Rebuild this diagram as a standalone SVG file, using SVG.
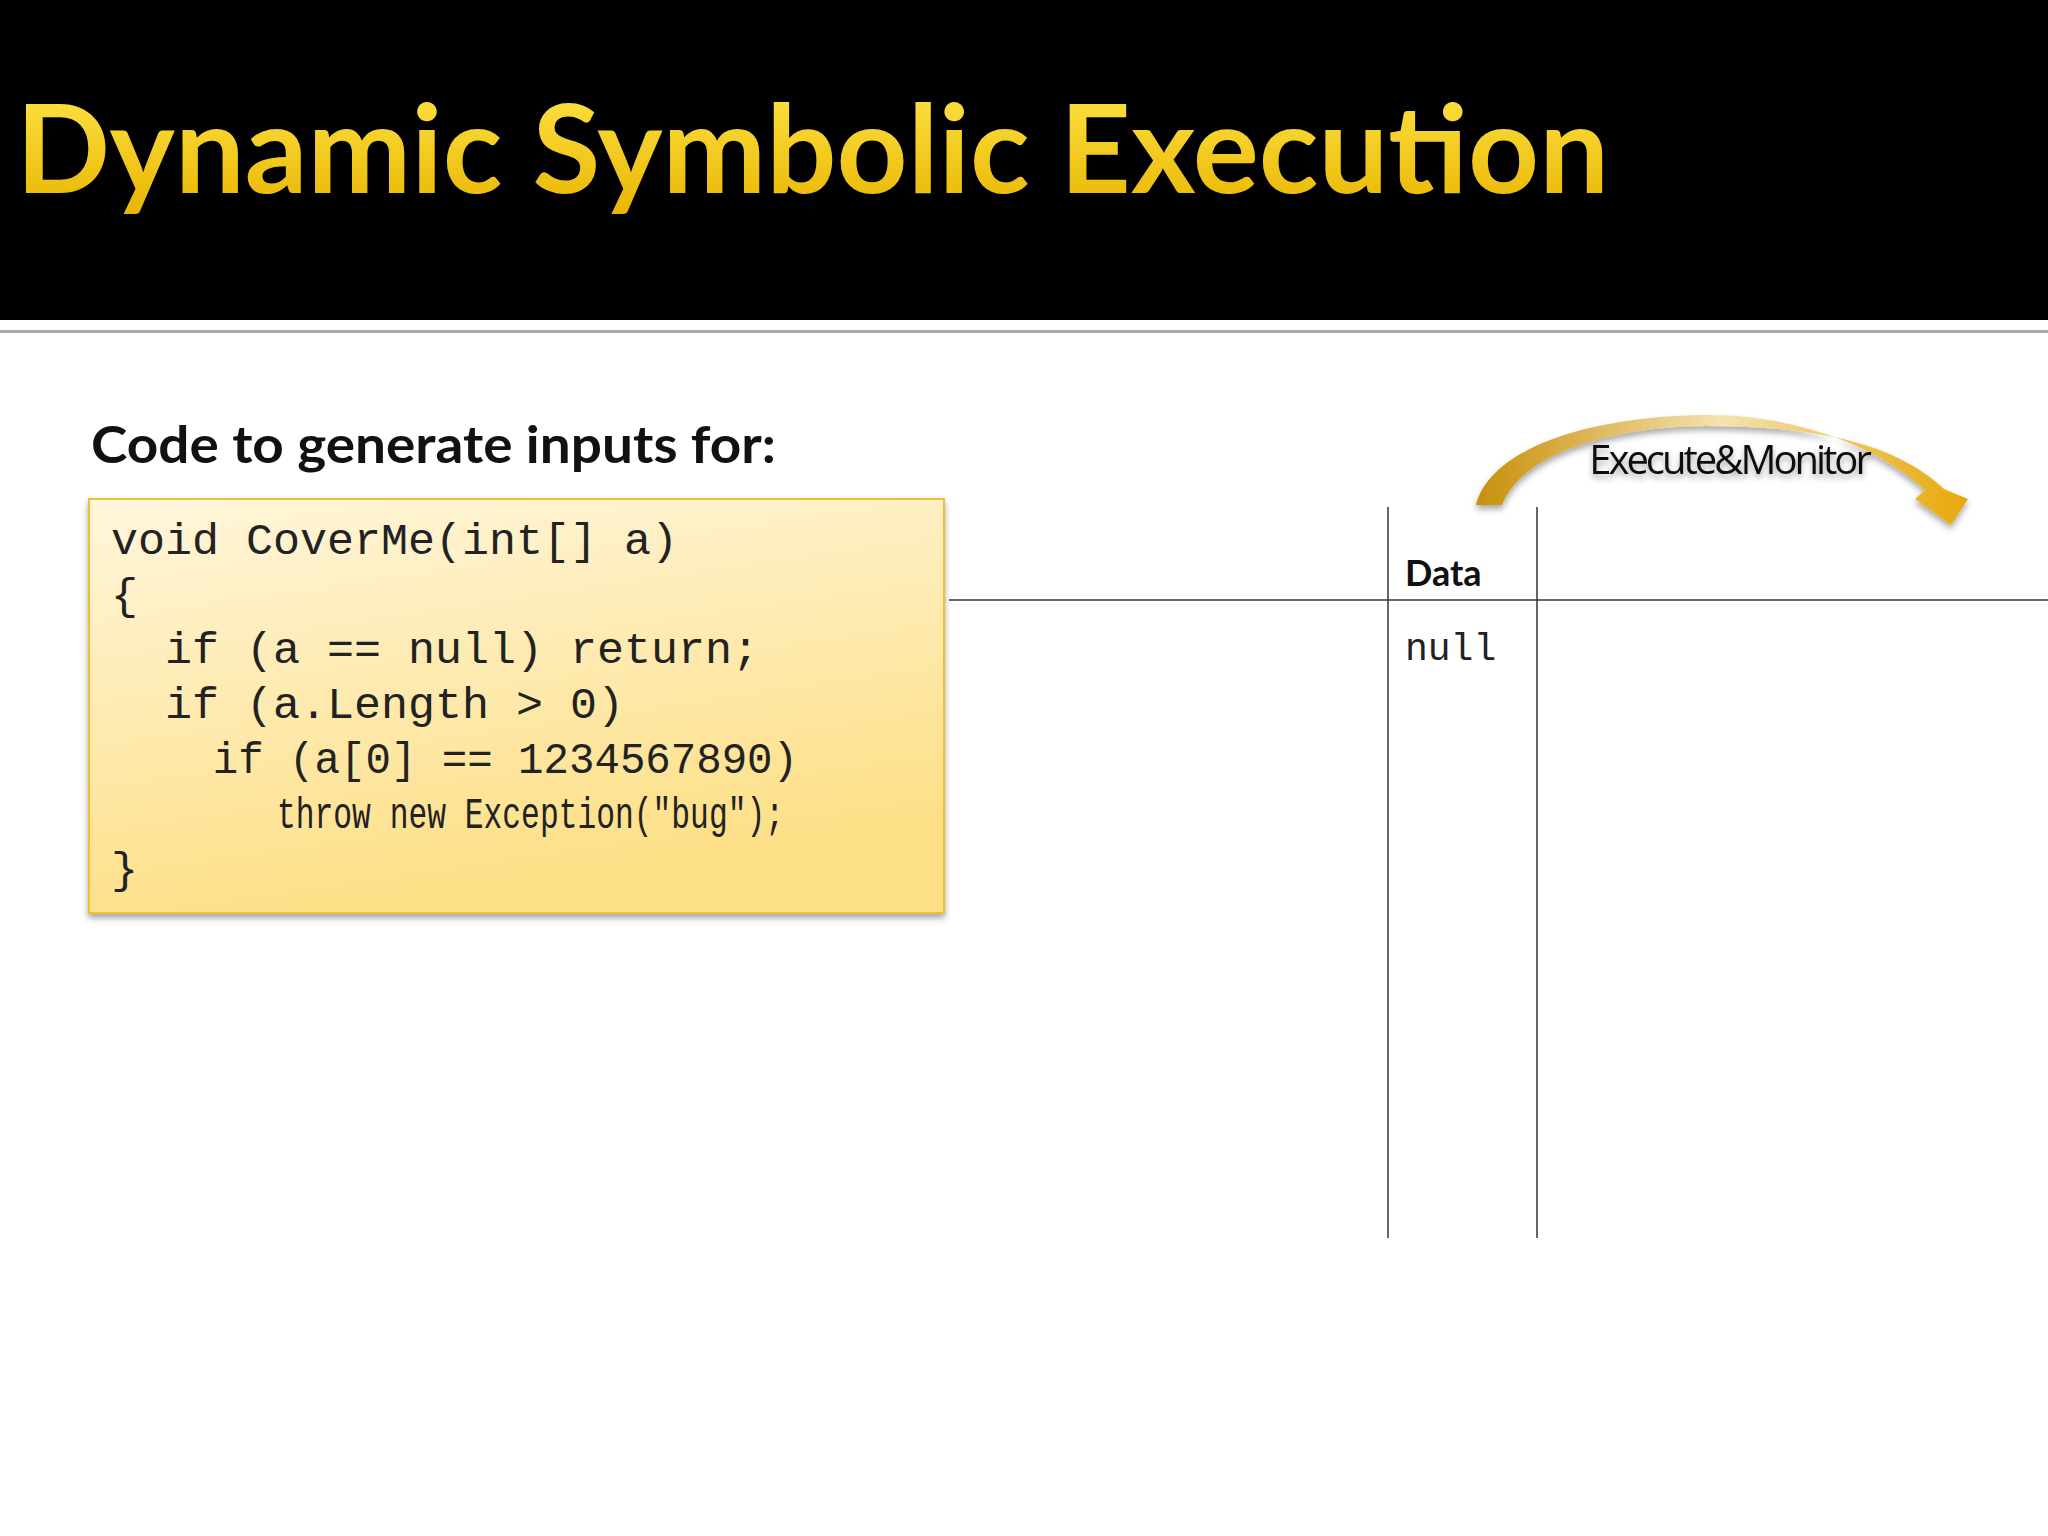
<svg xmlns="http://www.w3.org/2000/svg" width="2048" height="1536" viewBox="0 0 2048 1536">
<defs>
<linearGradient id="tg" x1="0" y1="0" x2="0" y2="1"><stop offset="0" stop-color="#ffe74a"/><stop offset="1" stop-color="#e8b400"/></linearGradient>
<linearGradient id="bg" x1="0" y1="0" x2="0.3" y2="1"><stop offset="0" stop-color="#fff6dc"/><stop offset="1" stop-color="#fddf85"/></linearGradient>
<linearGradient id="ag" x1="0" y1="0" x2="1" y2="0"><stop offset="0" stop-color="#c8900a"/><stop offset="0.5" stop-color="#f5e2b0"/><stop offset="1" stop-color="#e8a80a"/></linearGradient>
<filter id="sh" x="-5%" y="-5%" width="110%" height="115%"><feDropShadow dx="0" dy="4" stdDeviation="3" flood-opacity="0.35"/></filter>
</defs>
<style>
.code{font-family:"Liberation Mono","DejaVu Sans Mono",monospace;font-size:45px;fill:#222}
.ln{stroke:#333;stroke-width:1.5}
</style>
<rect width="2048" height="1536" fill="#fff"/>
<rect width="2048" height="320" fill="#000"/>
<rect y="330" width="2048" height="3" fill="#aaa"/>
<text x="16" y="193" font-family="Lato,'Open Sans',sans-serif" font-weight="bold" font-size="122" fill="url(#tg)" textLength="1593" lengthAdjust="spacingAndGlyphs">Dynamic Symbolic Execution</text>
<text x="91" y="463" font-family="Lato,'Open Sans',sans-serif" font-weight="bold" font-size="52" fill="#111" textLength="685" lengthAdjust="spacingAndGlyphs">Code to generate inputs for:</text>
<g id="code">
<rect x="89" y="499" width="855" height="414" fill="url(#bg)" stroke="#f0c030" stroke-width="2" filter="url(#sh)"/>
<text class="code" x="111" y="554">void CoverMe(int[] a)</text>
<text class="code" x="111" y="609">{</text>
<text class="code" x="111" y="663" xml:space="preserve">  if (a == null) return;</text>
<text class="code" x="111" y="718" xml:space="preserve">  if (a.Length &gt; 0)</text>
<text class="code" x="111" y="773" xml:space="preserve" textLength="687" lengthAdjust="spacingAndGlyphs">    if (a[0] == 1234567890)</text>
<text class="code" x="277" y="828" textLength="507" lengthAdjust="spacingAndGlyphs">throw new Exception("bug");</text>
<text class="code" x="111" y="883">}</text>
</g>
<g id="table">
<line class="ln" x1="949" y1="600" x2="2048" y2="600"/>
<line class="ln" x1="1388" y1="507" x2="1388" y2="1238"/>
<line class="ln" x1="1537" y1="507" x2="1537" y2="1238"/>
<text x="1405" y="586" font-family="Lato,'Open Sans',sans-serif" font-weight="bold" font-size="36" fill="#111">Data</text>
<text x="1405" y="660" font-family="'Liberation Mono',monospace" font-size="38" fill="#222">null</text>
</g>
<g id="arrow">
<path d="M1476,505 C1490,448 1590,416 1706,415 C1800,415 1880,448 1925,490 L1915,499 L1951,525 L1968,499 L1944,489 C1890,438 1800,426 1706,426 C1600,427 1520,458 1502,505 Z" fill="url(#ag)" filter="url(#sh)"/>
<text x="1729" y="474" text-anchor="middle" font-family="'Open Sans',sans-serif" font-size="40" letter-spacing="-3" fill="#111" filter="url(#sh)">Execute&amp;Monitor</text>
</g>
</svg>
